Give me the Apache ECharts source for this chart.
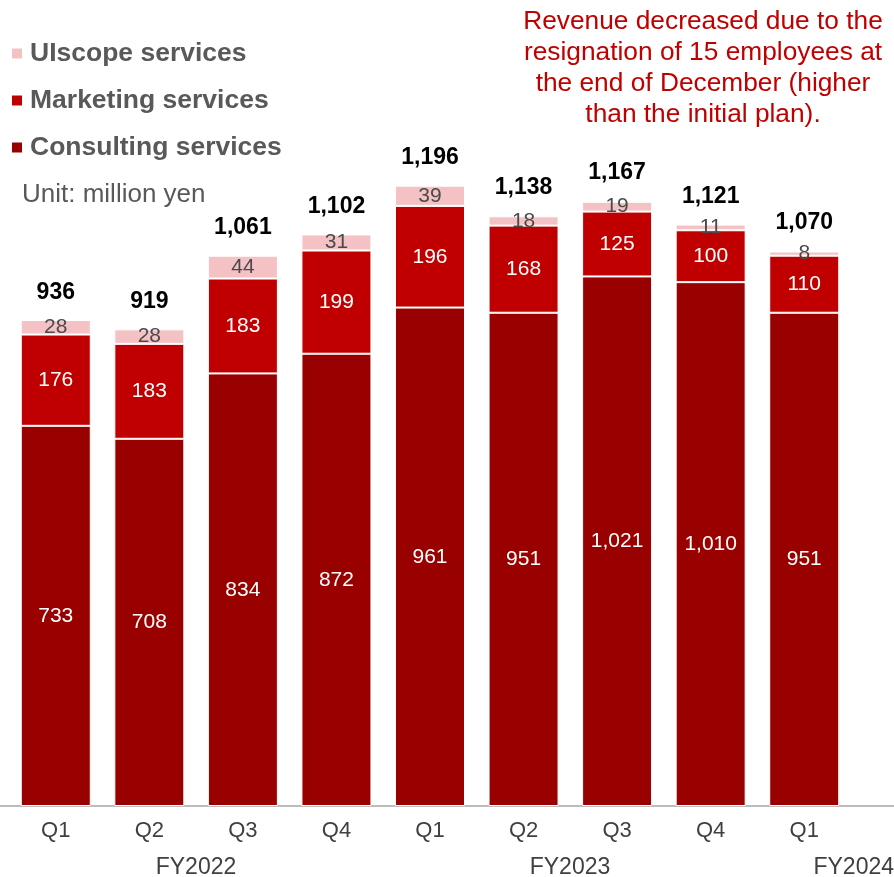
<!DOCTYPE html>
<html>
<head>
<meta charset="utf-8">
<script src="https://cdn.jsdelivr.net/npm/echarts@6/dist/echarts.min.js"></script>
<style>
  html, body { margin: 0; padding: 0; background: #fff; }
  #chart { width: 894px; height: 877px; }
</style>
</head>
<body>
<div id="chart"></div>
<script>
// Quarterly revenue by service line (million yen)
const quarters = ['Q1', 'Q2', 'Q3', 'Q4', 'Q1', 'Q2', 'Q3', 'Q4', 'Q1'];
const fiscalYears = ['FY2022', 'FY2023', 'FY2024'];
const consulting = [733, 708, 834, 872, 961, 951, 1021, 1010, 951];
const marketing = [176, 183, 183, 199, 196, 168, 125, 100, 110];
const uiscope = [28, 28, 44, 31, 39, 18, 19, 11, 8];
const totals = [936, 919, 1061, 1102, 1196, 1138, 1167, 1121, 1070];
const seriesNames = ['UIscope services', 'Marketing services', 'Consulting services'];
const noteLines = [
  'Revenue decreased due to the',
  'resignation of 15 employees at',
  'the end of December (higher',
  'than the initial plan).'
];

const FONT = '"Liberation Sans", Arial, sans-serif';
const fmt = v => Number(v).toLocaleString('en-US');

const chart = echarts.init(document.getElementById('chart'), null, { renderer: 'canvas' });

const segLabel = (color) => ({
  show: true,
  position: 'inside',
  color: color,
  fontSize: 21,
  fontFamily: FONT,
  formatter: p => fmt(p.value)
});

chart.setOption({
  animation: false,
  textStyle: { fontFamily: FONT },
  grid: { left: 9, right: 43, top: 28, bottom: 71, containLabel: false },
  legend: {
    orient: 'vertical',
    left: 12,
    top: 40,
    padding: 0,
    itemWidth: 10,
    itemHeight: 10,
    itemGap: 20,
    icon: 'rect',
    data: seriesNames,
    itemStyle: { borderWidth: 0 },
    textStyle: { color: '#595959', fontSize: 26.5, fontWeight: 'bold', fontFamily: FONT, padding: [0, 0, 0, 3] },
    selectedMode: false
  },
  xAxis: {
    type: 'category',
    data: quarters,
    axisLine: { show: false },
    axisTick: { show: false },
    axisLabel: { color: '#404040', fontSize: 22, margin: 14, fontFamily: FONT }
  },
  yAxis: {
    type: 'value',
    min: 0,
    max: 1500,
    show: false,
    splitLine: { show: false }
  },
  series: [
    {
      name: 'Consulting services',
      type: 'bar',
      stack: 'rev',
      barWidth: 70,
      data: consulting,
      itemStyle: { color: '#990000', borderColor: '#ffffff', borderWidth: 1 },
      label: segLabel('#ffffff')
    },
    {
      name: 'Marketing services',
      type: 'bar',
      stack: 'rev',
      barWidth: 70,
      data: marketing,
      itemStyle: { color: '#C00000', borderColor: '#ffffff', borderWidth: 1 },
      label: segLabel('#ffffff')
    },
    {
      name: 'UIscope services',
      type: 'bar',
      stack: 'rev',
      barWidth: 70,
      data: uiscope,
      itemStyle: { color: '#F4C2C4', borderColor: '#ffffff', borderWidth: 1 },
      label: segLabel('#4a4a4a')
    },
    {
      // quarter totals, drawn as labels above each stack
      name: 'Total',
      type: 'scatter',
      data: totals,
      symbol: 'circle',
      symbolSize: 1,
      itemStyle: { color: 'rgba(0,0,0,0)' },
      silent: true,
      label: {
        show: true,
        position: 'top',
        distance: 16,
        color: '#000000',
        opacity: 1,
        fontSize: 23,
        fontWeight: 'bold',
        fontFamily: FONT,
        formatter: p => fmt(p.value)
      }
    }
  ],
  graphic: [
    // baseline across the full width
    { type: 'line', shape: { x1: 0, y1: 806, x2: 894, y2: 806 }, style: { stroke: '#A6A6A6', lineWidth: 1.5 }, silent: true },
    {
      type: 'text', left: 22, top: 182,
      style: { text: 'Unit: million yen', fill: '#595959', font: '26px ' + FONT }
    },
    {
      type: 'text', x: 703, y: 6,
      style: {
        text: noteLines.join('\n'),
        fill: '#C00000',
        font: '26.3px ' + FONT,
        lineHeight: 31,
        align: 'center'
      }
    },
    { type: 'text', x: 196, y: 856, style: { text: fiscalYears[0], fill: '#404040', font: '23px ' + FONT, align: 'center' } },
    { type: 'text', x: 570, y: 856, style: { text: fiscalYears[1], fill: '#404040', font: '23px ' + FONT, align: 'center' } },
    { type: 'text', x: 894, y: 856, style: { text: fiscalYears[2], fill: '#404040', font: '23px ' + FONT, align: 'right' } }
  ]
});
</script>
</body>
</html>
